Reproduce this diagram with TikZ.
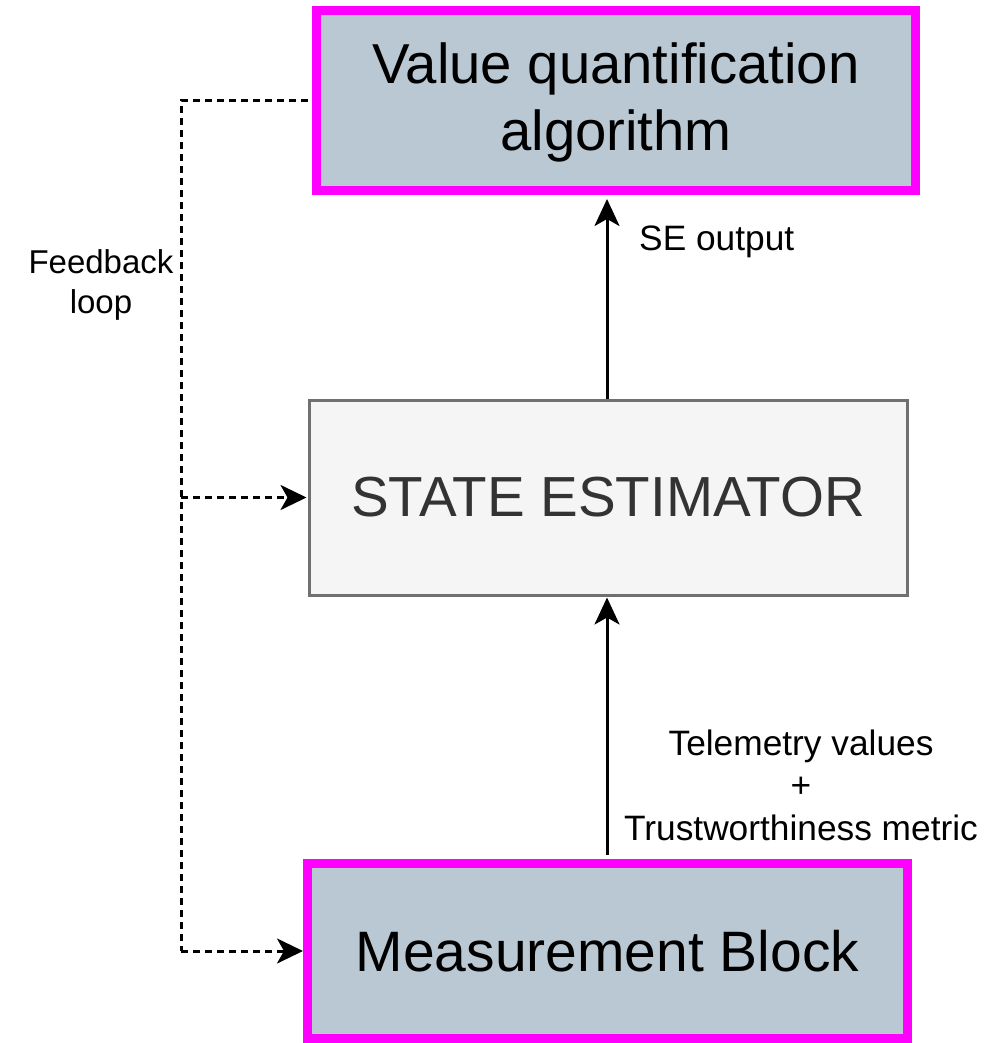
\documentclass[tikz,border=0pt]{standalone}
\usepackage{fontspec}
\setmainfont{Liberation Sans}
\usetikzlibrary{arrows.meta}
\definecolor{magbox}{HTML}{FF00FF}
\definecolor{bluegray}{HTML}{BAC8D3}
\definecolor{segray}{HTML}{F5F5F5}
\definecolor{sestroke}{HTML}{707070}
\definecolor{setext}{HTML}{333333}
\tikzset{
  keybox/.style={draw=magbox, line width=9pt, fill=bluegray, rectangle, align=center,
    font=\fontsize{56.5}{67}\selectfont, inner sep=0pt},
  sebox/.style={draw=sestroke, line width=3pt, fill=segray, rectangle, align=center,
    font=\fontsize{56.5}{66}\selectfont, text=setext, inner sep=0pt},
  flow/.style={line width=3pt, -{Stealth[length=27pt,width=25pt,inset=7pt]}},
  fb/.style={line width=3pt, dash pattern=on 7pt off 5pt, -{Stealth[length=26pt,width=25pt,inset=7pt]}},
  fbline/.style={line width=3pt, dash pattern=on 7pt off 5pt},
  lbl/.style={align=center, font=\fontsize{35.3}{42.5}\selectfont, inner sep=0pt},
  fblbl/.style={align=center, font=\fontsize{33}{40}\selectfont, inner sep=0pt}
}
\begin{document}
\begin{tikzpicture}[x=1pt,y=-1pt]
\useasboundingbox (0,0) rectangle (991,1043);
\node[keybox, minimum width=599pt, minimum height=180pt, font=\fontsize{56.3}{67}\selectfont, text depth=8pt] (vq) at (616,100.5) {Value quantification\\algorithm};
\node[sebox, minimum width=598pt, minimum height=195pt] (se) at (608,497.5) {STATE ESTIMATOR};
\node[keybox, minimum width=600pt, minimum height=175pt, font=\fontsize{57}{67}\selectfont] (mb) at (607.5,951) {Measurement Block};
\coordinate (c1) at (181,100.5);
\draw[flow, shorten >=4pt] ([xshift=-1pt]se.north) -- ([xshift=-1pt]se.north |- vq.south);
\draw[flow, shorten >=1pt, shorten <=4.5pt] ([xshift=-0.5pt]mb.north) -- ([xshift=-0.5pt]mb.north |- se.south);
\node[lbl, anchor=west] (seo) at (639,242) {SE output};
\node[lbl] (tel) at (801,785) {Telemetry values\\+\\Trustworthiness metric};
\draw[fbline, shorten <=4.5pt] (vq.west) -- (c1) -- (c1 |- mb.west);
\draw[fb] (c1 |- mb.west) -- (mb.west);
\draw[fb] (c1 |- se.west) -- ([xshift=-1pt]se.west);
\node[fblbl] (fbl) at (101,285) {Feedback\\loop};
\end{tikzpicture}
\end{document}
